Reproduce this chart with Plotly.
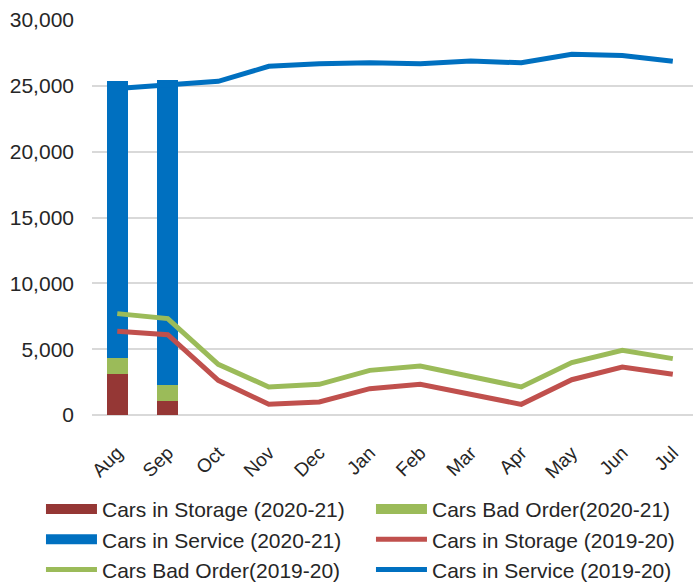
import plotly.graph_objects as go

months = ["Aug", "Sep", "Oct", "Nov", "Dec", "Jan", "Feb", "Mar", "Apr", "May", "Jun", "Jul"]

# 2020-21 stacked bars (only Aug, Sep available)
storage_2021 = [3090, 1060, None, None, None, None, None, None, None, None, None, None]
bad_order_2021 = [1240, 1220, None, None, None, None, None, None, None, None, None, None]
service_2021 = [21070, 23190, None, None, None, None, None, None, None, None, None, None]

# 2019-20 lines
storage_1920 = [6360, 6100, 2630, 810, 990, 2000, 2330, 1570, 810, 2680, 3640, 3090]
bad_order_1920 = [7700, 7320, 3850, 2130, 2330, 3390, 3720, 2940, 2130, 3980, 4910, 4280]
service_1920 = [24800, 25090, 25340, 26480, 26680, 26750, 26680, 26880, 26750, 27390, 27310, 26860]

C_STOR_BAR = "#953735"
C_BAD = "#9BBB59"
C_SERV = "#0070C0"
C_STOR_LINE = "#C0504D"

COL1_W = 264
COL2_W = 245

fig = go.Figure()

for name, vals, col, grp in [
    ("Cars in Storage (2020-21)", storage_2021, C_STOR_BAR, "s21"),
    ("Cars Bad Order(2020-21)", bad_order_2021, C_BAD, "b21"),
    ("Cars in Service (2020-21)", service_2021, C_SERV, "v21"),
]:
    fig.add_trace(go.Bar(x=months, y=vals, marker=dict(color=col, line=dict(width=0)),
                         name=name, legendgroup=grp, showlegend=False, hoverinfo="x+y+name"))

# legend entries in reading order (two columns)
legend_items = [
    ("Cars in Storage (2020-21)", C_STOR_BAR, "s21", 10, None, COL1_W),
    ("Cars Bad Order(2020-21)", C_BAD, "b21", 10, None, COL2_W),
    ("Cars in Service (2020-21)", C_SERV, "v21", 10, None, COL1_W),
    ("Cars in Storage (2019-20)", C_STOR_LINE, None, 5, storage_1920, COL2_W),
    ("Cars Bad Order(2019-20)", C_BAD, None, 5, bad_order_1920, COL1_W),
    ("Cars in Service (2019-20)", C_SERV, None, 5, service_1920, COL2_W),
]
for name, col, grp, lw, vals, ew in legend_items:
    if vals is None:
        fig.add_trace(go.Scatter(x=[None], y=[None], mode="lines", name=name, legendgroup=grp,
                                 line=dict(color=col, width=lw), legendwidth=ew))
    else:
        fig.add_trace(go.Scatter(x=months, y=vals, mode="lines", name=name,
                                 line=dict(color=col, width=lw), legendwidth=ew))

fig.update_layout(
    width=693, height=585,
    margin=dict(l=92, r=0, t=20, b=170, autoexpand=False),
    paper_bgcolor="white", plot_bgcolor="white",
    barmode="stack", bargap=0.58,
    font=dict(family="Arial, Liberation Sans, sans-serif", size=21, color="#262626"),
    showlegend=True,
    legend=dict(orientation="h", x=-0.0849, xanchor="left", y=-0.187, yanchor="top",
                itemwidth=51, font=dict(size=21, color="#262626"), traceorder="normal",
                tracegroupgap=0),
)
fig.update_xaxes(type="category", range=[-0.5, 11.4], tickangle=-45, showgrid=False,
                 showline=False, ticks="", tickfont=dict(size=19), ticklabelstandoff=22,
                 automargin=False)
fig.update_yaxes(range=[0, 30000], dtick=5000, tickformat=",d", showgrid=True,
                 gridcolor="#D9D9D9", gridwidth=1.5, zeroline=True, zerolinecolor="#D9D9D9",
                 zerolinewidth=1.5, showline=False, ticks="", tickfont=dict(size=21),
                 ticklabelstandoff=17, automargin=False)

fig.write_html("out.html", config={"displayModeBar": False},
               post_script="document.body.style.margin='0';")
